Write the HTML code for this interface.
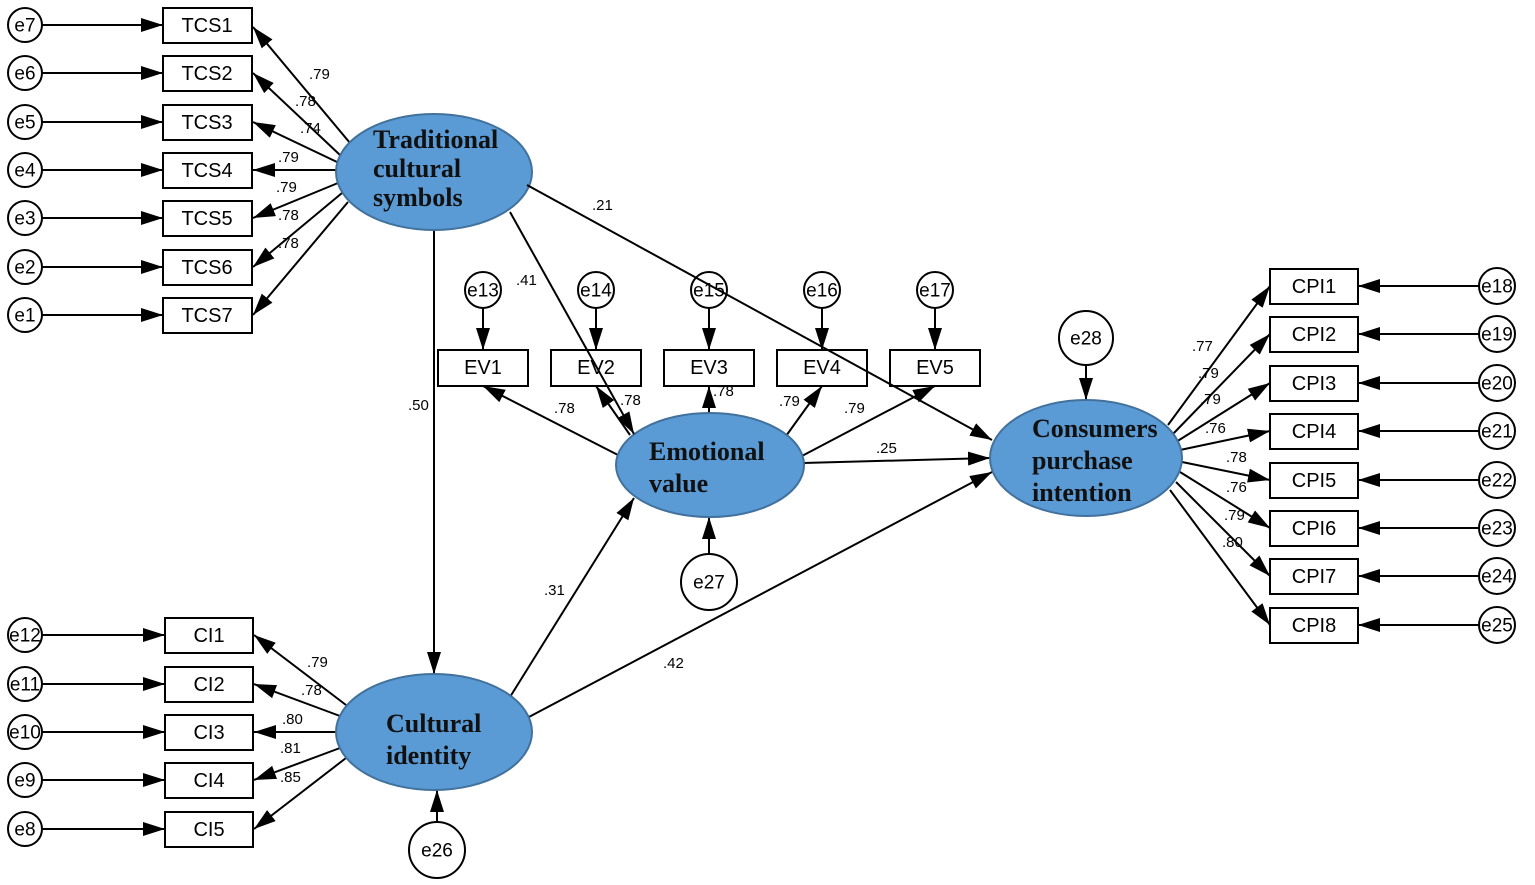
<!DOCTYPE html>
<html><head><meta charset="utf-8"><style>
html,body{margin:0;padding:0;background:#fff}
svg{display:block}
text{font-family:"Liberation Sans",Arial,sans-serif}
.n text{font-size:20px;text-anchor:middle;dominant-baseline:central}
.e text{font-size:19px;text-anchor:middle;dominant-baseline:central}
.l text{font-size:15px}
.b text{font-family:"Liberation Serif",serif;font-weight:bold;font-size:26px;fill:#111}
</style></head><body>
<svg width="1535" height="885" viewBox="0 0 1535 885" xmlns="http://www.w3.org/2000/svg">
<defs>
<marker id="h" viewBox="0 0 10 10" refX="10" refY="5" markerWidth="22" markerHeight="14" markerUnits="userSpaceOnUse" orient="auto" preserveAspectRatio="none"><path d="M0,0L10,5L0,10z" fill="#000"/></marker></defs>
<g stroke="#000" stroke-width="2" fill="none" marker-end="url(#h)">
<line x1="42" y1="25" x2="163" y2="25"/><line x1="42" y1="73" x2="163" y2="73"/><line x1="42" y1="122" x2="163" y2="122"/><line x1="42" y1="170" x2="163" y2="170"/><line x1="42" y1="218" x2="163" y2="218"/><line x1="42" y1="267" x2="163" y2="267"/><line x1="42" y1="315" x2="163" y2="315"/>
<line x1="350" y1="143" x2="253" y2="27"/><line x1="340" y1="155" x2="253" y2="73"/><line x1="337" y1="162" x2="253" y2="122"/><line x1="336" y1="170" x2="253" y2="170"/><line x1="338" y1="183" x2="253" y2="218"/><line x1="342" y1="193" x2="253" y2="267"/><line x1="348" y1="202" x2="253" y2="315"/>
<line x1="434" y1="230" x2="434" y2="674"/>
<line x1="803" y1="463" x2="990" y2="458"/>
<line x1="510" y1="697" x2="634" y2="498"/>
<line x1="527" y1="718" x2="992" y2="472"/>
<line x1="618" y1="455" x2="483" y2="386"/><line x1="630" y1="435" x2="596" y2="386"/><line x1="709" y1="413" x2="709" y2="386"/><line x1="786" y1="436" x2="822" y2="386"/><line x1="800" y1="457" x2="935" y2="386"/>
<line x1="483" y1="308" x2="483" y2="350"/><line x1="596" y1="308" x2="596" y2="350"/><line x1="709" y1="308" x2="709" y2="350"/><line x1="822" y1="308" x2="822" y2="350"/><line x1="935" y1="308" x2="935" y2="350"/>
<line x1="709" y1="554" x2="709" y2="517"/><line x1="437" y1="822" x2="437" y2="790"/><line x1="1086" y1="365" x2="1086" y2="400"/>
<line x1="42" y1="635" x2="165" y2="635"/><line x1="42" y1="684" x2="165" y2="684"/><line x1="42" y1="732" x2="165" y2="732"/><line x1="42" y1="780" x2="165" y2="780"/><line x1="42" y1="829" x2="165" y2="829"/>
<line x1="346" y1="705" x2="254" y2="635"/><line x1="340" y1="716" x2="254" y2="684"/><line x1="336" y1="732" x2="254" y2="732"/><line x1="340" y1="748" x2="254" y2="780"/><line x1="346" y1="758" x2="254" y2="829"/>
<line x1="1168" y1="425" x2="1270" y2="286"/><line x1="1172" y1="435" x2="1270" y2="334"/><line x1="1176" y1="442" x2="1270" y2="383"/><line x1="1180" y1="450" x2="1270" y2="431"/><line x1="1182" y1="462" x2="1270" y2="480"/><line x1="1180" y1="472" x2="1270" y2="528"/><line x1="1176" y1="482" x2="1270" y2="576"/><line x1="1170" y1="490" x2="1270" y2="625"/>
<line x1="1479" y1="286" x2="1358" y2="286"/><line x1="1479" y1="334" x2="1358" y2="334"/><line x1="1479" y1="383" x2="1358" y2="383"/><line x1="1479" y1="431" x2="1358" y2="431"/><line x1="1479" y1="480" x2="1358" y2="480"/><line x1="1479" y1="528" x2="1358" y2="528"/><line x1="1479" y1="576" x2="1358" y2="576"/><line x1="1479" y1="625" x2="1358" y2="625"/>
</g>
<g stroke="#000" stroke-width="2" fill="#fff">
<circle cx="25" cy="25" r="17"/><circle cx="25" cy="73" r="17"/><circle cx="25" cy="122" r="17"/><circle cx="25" cy="170" r="17"/><circle cx="25" cy="218" r="17"/><circle cx="25" cy="267" r="17"/><circle cx="25" cy="315" r="17"/>
<circle cx="25" cy="635" r="17"/><circle cx="25" cy="684" r="17"/><circle cx="25" cy="732" r="17"/><circle cx="25" cy="780" r="17"/><circle cx="25" cy="829" r="17"/>
<circle cx="1497" cy="286" r="18"/><circle cx="1497" cy="334" r="18"/><circle cx="1497" cy="383" r="18"/><circle cx="1497" cy="431" r="18"/><circle cx="1497" cy="480" r="18"/><circle cx="1497" cy="528" r="18"/><circle cx="1497" cy="576" r="18"/><circle cx="1497" cy="625" r="18"/>
<circle cx="483" cy="290" r="18"/><circle cx="596" cy="290" r="18"/><circle cx="709" cy="290" r="18"/><circle cx="822" cy="290" r="18"/><circle cx="935" cy="290" r="18"/>
<circle cx="709" cy="582" r="28"/><circle cx="437" cy="850" r="28"/><circle cx="1086" cy="338" r="27"/>
<rect x="163" y="8" width="89" height="35"/><rect x="163" y="56" width="89" height="35"/><rect x="163" y="105" width="89" height="35"/><rect x="163" y="153" width="89" height="35"/><rect x="163" y="201" width="89" height="35"/><rect x="163" y="250" width="89" height="35"/><rect x="163" y="298" width="89" height="35"/>
<rect x="165" y="618" width="88" height="35"/><rect x="165" y="667" width="88" height="35"/><rect x="165" y="715" width="88" height="35"/><rect x="165" y="763" width="88" height="35"/><rect x="165" y="812" width="88" height="35"/>
<rect x="1270" y="269" width="88" height="35"/><rect x="1270" y="317" width="88" height="35"/><rect x="1270" y="366" width="88" height="35"/><rect x="1270" y="414" width="88" height="35"/><rect x="1270" y="463" width="88" height="35"/><rect x="1270" y="511" width="88" height="35"/><rect x="1270" y="559" width="88" height="35"/><rect x="1270" y="608" width="88" height="35"/>
<rect x="438" y="350" width="90" height="36"/><rect x="551" y="350" width="90" height="36"/><rect x="664" y="350" width="90" height="36"/><rect x="777" y="350" width="90" height="36"/><rect x="890" y="350" width="90" height="36"/>
</g>
<g fill="#5b9bd5" stroke="#41719c" stroke-width="2">
<ellipse cx="434" cy="172" rx="98" ry="58"/><ellipse cx="710" cy="465" rx="94" ry="52"/><ellipse cx="434" cy="732" rx="98" ry="58"/><ellipse cx="1086" cy="458" rx="96" ry="58"/>
</g>
<g stroke="#000" stroke-width="2" fill="none" marker-end="url(#h)">
<line x1="510" y1="212" x2="634" y2="434"/>
<line x1="527" y1="185" x2="992" y2="440"/>
</g>
<g class="n"><text x="207" y="26">TCS1</text><text x="207" y="74">TCS2</text><text x="207" y="123">TCS3</text><text x="207" y="171">TCS4</text><text x="207" y="219">TCS5</text><text x="207" y="268">TCS6</text><text x="207" y="316">TCS7</text>
<text x="209" y="636">CI1</text><text x="209" y="685">CI2</text><text x="209" y="733">CI3</text><text x="209" y="781">CI4</text><text x="209" y="830">CI5</text>
<text x="1314" y="287">CPI1</text><text x="1314" y="335">CPI2</text><text x="1314" y="384">CPI3</text><text x="1314" y="432">CPI4</text><text x="1314" y="481">CPI5</text><text x="1314" y="529">CPI6</text><text x="1314" y="577">CPI7</text><text x="1314" y="626">CPI8</text>
<text x="483" y="368">EV1</text><text x="596" y="368">EV2</text><text x="709" y="368">EV3</text><text x="822" y="368">EV4</text><text x="935" y="368">EV5</text></g>
<g class="b"><text x="373" y="148">Traditional</text><text x="373" y="177">cultural</text><text x="373" y="206">symbols</text>
<text x="649" y="460">Emotional</text><text x="649" y="492">value</text>
<text x="386" y="732">Cultural</text><text x="386" y="764">identity</text>
<text x="1032" y="437">Consumers</text><text x="1032" y="469">purchase</text><text x="1032" y="501">intention</text></g>
<g class="e"><text x="25" y="26">e7</text><text x="25" y="74">e6</text><text x="25" y="123">e5</text><text x="25" y="171">e4</text><text x="25" y="219">e3</text><text x="25" y="268">e2</text><text x="25" y="316">e1</text>
<text x="25" y="636">e12</text><text x="25" y="685">e11</text><text x="25" y="733">e10</text><text x="25" y="781">e9</text><text x="25" y="830">e8</text>
<text x="1497" y="287">e18</text><text x="1497" y="335">e19</text><text x="1497" y="384">e20</text><text x="1497" y="432">e21</text><text x="1497" y="481">e22</text><text x="1497" y="529">e23</text><text x="1497" y="577">e24</text><text x="1497" y="626">e25</text>
<text x="483" y="291">e13</text><text x="596" y="291">e14</text><text x="709" y="291">e15</text><text x="822" y="291">e16</text><text x="935" y="291">e17</text>
<text x="709" y="583">e27</text><text x="437" y="851">e26</text><text x="1086" y="339">e28</text></g>
<g class="l">
<text x="309" y="79">.79</text><text x="295" y="106">.78</text><text x="300" y="133">.74</text><text x="278" y="162">.79</text><text x="276" y="192">.79</text><text x="278" y="220">.78</text><text x="278" y="248">.78</text>
<text x="307" y="667">.79</text><text x="301" y="695">.78</text><text x="282" y="724">.80</text><text x="280" y="753">.81</text><text x="280" y="782">.85</text>
<text x="1192" y="351">.77</text><text x="1198" y="378">.79</text><text x="1200" y="404">.79</text><text x="1205" y="433">.76</text><text x="1226" y="462">.78</text><text x="1226" y="492">.76</text><text x="1224" y="520">.79</text><text x="1222" y="547">.80</text>
<text x="554" y="413">.78</text><text x="620" y="405">.78</text><text x="713" y="396">.78</text><text x="779" y="406">.79</text><text x="844" y="413">.79</text>
<text x="408" y="410">.50</text><text x="516" y="285">.41</text><text x="592" y="210">.21</text><text x="876" y="453">.25</text><text x="544" y="595">.31</text><text x="663" y="668">.42</text>
</g>
</svg>
</body></html>
